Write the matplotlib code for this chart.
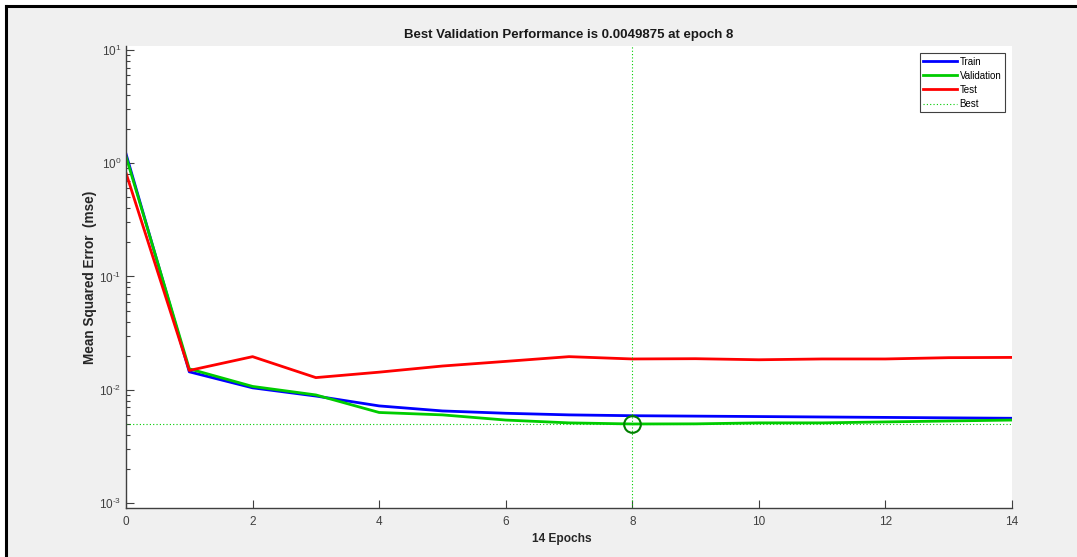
import matplotlib
matplotlib.use("Agg")
import matplotlib.pyplot as plt
from matplotlib.lines import Line2D
from matplotlib.patches import Rectangle
from matplotlib.ticker import LogLocator, FuncFormatter, NullFormatter
import math

plt.rcParams['font.family'] = ['Liberation Sans', 'DejaVu Sans']
plt.rcParams['mathtext.fontset'] = 'custom'
plt.rcParams['mathtext.rm'] = 'Liberation Sans'
plt.rcParams['mathtext.it'] = 'Liberation Sans:italic'
plt.rcParams['mathtext.bf'] = 'Liberation Sans:bold'
plt.rcParams['axes.unicode_minus'] = False

epochs = list(range(15))
train = [1.21, 0.0144, 0.0104, 0.0088, 0.0072, 0.0065, 0.0062, 0.0060, 0.0059,
         0.00585, 0.0058, 0.00575, 0.0057, 0.00565, 0.0056]
validation = [1.15, 0.0153, 0.0107, 0.0090, 0.0063, 0.0060, 0.0054, 0.0051, 0.0049875,
              0.0050, 0.0051, 0.0051, 0.0052, 0.0053, 0.0054]
test = [0.82, 0.0148, 0.0196, 0.0128, 0.0143, 0.0162, 0.0178, 0.0196, 0.0187,
        0.0188, 0.0184, 0.0187, 0.0187, 0.0192, 0.0193]
best_epoch = 8
best_value = 0.0049875
series_labels = ["Train", "Validation", "Test", "Best"]
title_text = "Best Validation Performance is 0.0049875 at epoch 8"
xlabel_text = "14 Epochs"
ylabel_text = "Mean Squared Error  (mse)"
xticks = [0, 2, 4, 6, 8, 10, 12, 14]

W, H = 1077, 557
fig = plt.figure(figsize=(W / 100, H / 100), dpi=100, facecolor='#f0f0f0')

# white margin outside the black frame (left and top)
fig.add_artist(Rectangle((0, 0), 5 / W, 1, transform=fig.transFigure, facecolor='white', edgecolor='none', zorder=0))
fig.add_artist(Rectangle((0, 1 - 5 / H), 1, 5 / H, transform=fig.transFigure, facecolor='white', edgecolor='none', zorder=0))
fig.add_artist(Line2D([6 / W, 6 / W], [0, 1 - 6 / H], transform=fig.transFigure, color='black', lw=2.2))
fig.add_artist(Line2D([6 / W, 1], [1 - 6 / H, 1 - 6 / H], transform=fig.transFigure, color='black', lw=2.2))

left, right, top, bottom = 126 / W, 1012 / W, 1 - 46 / H, 1 - 508 / H
ax = fig.add_axes([left, bottom, right - left, top - bottom])
ax.set_facecolor('white')

ax.plot(epochs, train, color=(0, 0, 1), lw=2, label=series_labels[0])
ax.plot(epochs, validation, color=(0, 0.8, 0), lw=2, label=series_labels[1])
ax.plot(epochs, test, color=(1, 0, 0), lw=2, label=series_labels[2])
ax.set_yscale('log')
ax.set_xlim(0, 14)
ax.set_ylim(10 ** -3.044, 10 ** 1.035)

ax.axvline(best_epoch, color=(0, 0.8, 0), lw=0.8, ls=(0, (1, 2)))
ax.plot([0, 14], [best_value, best_value], color=(0, 0.8, 0), lw=0.8, ls=(0, (1, 2)), label=series_labels[3])
ax.plot([best_epoch], [best_value], 'o', mfc='none', mec=(0, 0.5, 0), ms=12, mew=1.5)


def log_fmt(v, pos):
    e = int(round(math.log10(v)))
    if e < 0:
        return r"$10^{\text{-}%d}$" % (-e)
    return r"$10^{%d}$" % e


ax.set_xticks(xticks)
ax.yaxis.set_major_locator(LogLocator(base=10, numticks=10))
ax.yaxis.set_major_formatter(FuncFormatter(log_fmt))
ax.yaxis.set_minor_locator(LogLocator(base=10, subs=range(2, 10), numticks=20))
ax.yaxis.set_minor_formatter(NullFormatter())

for s in ['top', 'right']:
    ax.spines[s].set_visible(False)
for s in ['left', 'bottom']:
    ax.spines[s].set_color('#404040')
    ax.spines[s].set_linewidth(1.0)
ax.tick_params(axis='both', which='major', direction='in', length=6, width=0.8, color='#404040',
               labelcolor='#404040', labelsize=8.5)
ax.tick_params(axis='y', which='minor', direction='in', length=3, width=0.8, color='#404040')
ax.tick_params(axis='x', pad=6)

ax.set_title(title_text, fontsize=9.5, fontweight='bold', color='#1a1a1a', pad=6)
ax.set_xlabel(xlabel_text, fontsize=8.6, fontweight='bold', color='#262626')
ax.set_ylabel(ylabel_text, fontsize=9.8, fontweight='bold', color='#262626')
ax.xaxis.set_label_coords((562 - 126) / (1012 - 126), -(533 - 508) / (508 - 46))
ax.yaxis.set_label_coords(-(126 - 97) / (1012 - 126), 0.5)

leg = ax.legend(loc='upper right', fontsize=7, handlelength=3.5, handletextpad=0.25,
                borderpad=0.35, labelspacing=0.42, fancybox=False, framealpha=1,
                edgecolor='#404040', borderaxespad=0.75)
leg.get_frame().set_linewidth(0.8)

fig.savefig('out.png', dpi=100, facecolor=fig.get_facecolor())
